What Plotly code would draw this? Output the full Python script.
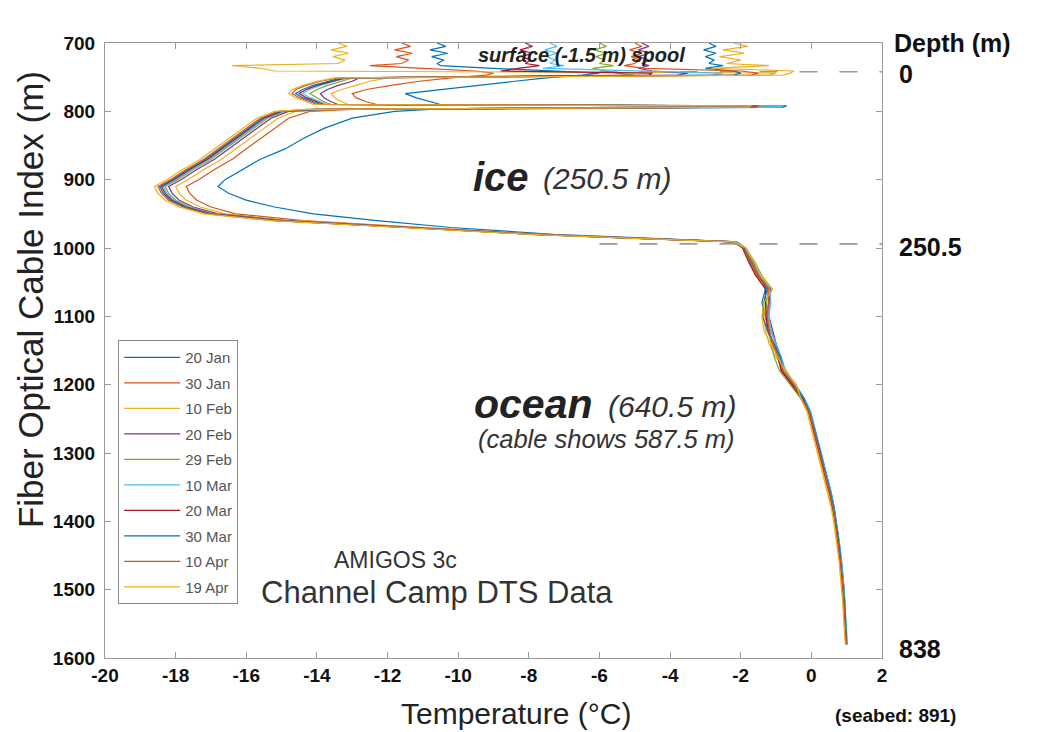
import plotly.graph_objects as go

# ---------------- data ----------------
CABLE_INDEX = [700, 705, 710, 715, 720, 725, 730, 733, 737, 741, 744, 747, 751, 756, 762, 768, 774, 780, 786, 790, 792, 794, 797, 800,
               810, 825, 840, 855, 870, 885, 900, 910, 920, 930, 940, 950, 960, 970, 980, 986, 991,
               1000, 1020, 1040, 1060, 1080, 1100, 1120, 1140, 1160, 1180, 1200, 1220, 1240, 1260, 1280, 1300, 1320, 1340,
               1360, 1380, 1400, 1420, 1440, 1460, 1480, 1500, 1520, 1540, 1560, 1580]

DATES = ["20 Jan", "30 Jan", "10 Feb", "20 Feb", "29 Feb", "10 Mar", "20 Mar", "30 Mar", "10 Apr", "19 Apr"]

T_20JAN = [-10.6, -10.35, -10.8, -10.3, -10.75, -10.4, -10.6, -10.5, -9.0, -7.5, -6.0, -6.5, -7.5, -8.4, -9.5, -10.6, -11.5, -11.2, -10.8, -10.5, -0.7, -0.8, -10.8, -11.8,
           -13.0, -13.8, -14.4, -14.9, -15.6, -16.1, -16.6, -16.8, -16.5, -16.0, -15.2, -14.1, -12.3, -10.2, -7.3, -4.5, -2.1,
           -1.95, -1.65, -1.45, -1.3, -1.4, -1.3, -1.15, -1.0, -0.85, -0.75, -0.45, -0.2, -0.02, 0.08, 0.18, 0.27, 0.38, 0.47, 0.57, 0.65, 0.71, 0.77, 0.81, 0.86, 0.9, 0.93, 0.95, 0.97, 0.99, 1.0]
T_30JAN = [-11.6, -11.35, -11.8, -11.3, -11.75, -11.4, -11.6, -12.5, -11.0, -9.5, -9.0, -9.2, -10.2, -11.1, -11.9, -12.6, -13.0, -12.9, -12.6, -12.3, -1.2, -1.3, -13.0, -14.2,
           -14.8, -15.2, -15.6, -16.0, -16.4, -16.9, -17.35, -17.7, -17.6, -17.4, -17.0, -16.3, -14.4, -11.0, -7.6, -4.7, -2.1,
           -1.9, -1.75, -1.55, -1.25, -1.2, -1.3, -1.25, -1.1, -0.95, -0.82, -0.55, -0.3, -0.08, 0.03, 0.12, 0.22, 0.32, 0.43, 0.52, 0.6, 0.67, 0.72, 0.77, 0.82, 0.86, 0.88, 0.92, 0.94, 0.97, 0.98]
T_10FEB = [-13.4, -13.15, -13.6, -13.1, -13.55, -13.2, -13.4, -16.4, -15.6, -15.2, -1.0, -1.2, -12.0, -12.5, -12.9, -13.3, -13.6, -13.5, -13.3, -13.1, -2.0, -2.1, -13.5, -14.6,
           -15.1, -15.5, -15.9, -16.3, -16.7, -17.2, -17.65, -18.0, -17.9, -17.7, -17.3, -16.6, -14.7, -11.2, -7.7, -4.8, -2.1,
           -1.85, -1.6, -1.4, -1.1, -1.3, -1.35, -1.3, -1.2, -1.0, -0.7, -0.45, -0.28, -0.1, 0.0, 0.1, 0.2, 0.3, 0.4, 0.5, 0.58, 0.64, 0.7, 0.75, 0.8, 0.83, 0.87, 0.9, 0.92, 0.95, 0.97]
T_20FEB = [-4.8, -4.6, -4.9, -4.6, -4.9, -4.6, -4.8, -4.6, -4.9, -4.5, -3.5, -3.8, -12.8, -13.0, -13.4, -13.7, -13.9, -13.8, -13.6, -13.4, -2.2, -2.3, -13.7, -14.8,
           -15.3, -15.7, -16.1, -16.5, -16.9, -17.4, -17.85, -18.2, -18.1, -17.9, -17.5, -16.8, -14.9, -11.3, -7.8, -4.8, -2.1,
           -1.9, -1.7, -1.5, -1.15, -1.2, -1.2, -1.1, -1.0, -0.95, -0.85, -0.52, -0.24, -0.04, 0.06, 0.16, 0.26, 0.36, 0.46, 0.56, 0.63, 0.7, 0.76, 0.8, 0.85, 0.88, 0.91, 0.94, 0.96, 0.98, 1.0]
T_29FEB = [-6.0, -5.8, -6.15, -5.8, -6.1, -5.85, -6.0, -5.6, -6.2, -5.8, -5.5, -5.0, -13.0, -13.3, -13.7, -14.0, -14.2, -14.0, -13.8, -13.6, -2.5, -2.6, -13.8, -14.9,
           -15.4, -15.8, -16.2, -16.6, -17.0, -17.5, -17.95, -18.3, -18.2, -18.0, -17.6, -16.9, -15.0, -11.4, -7.8, -4.9, -2.1,
           -1.92, -1.68, -1.48, -1.22, -1.28, -1.22, -1.18, -1.15, -1.05, -0.9, -0.6, -0.3, -0.06, 0.04, 0.14, 0.24, 0.34, 0.45, 0.55, 0.62, 0.7, 0.75, 0.8, 0.84, 0.89, 0.92, 0.95, 0.97, 0.99, 1.01]
T_10MAR = [-7.4, -7.2, -7.55, -7.2, -7.5, -7.25, -7.4, -7.0, -7.6, -5.0, -2.5, -2.8, -13.1, -13.5, -13.9, -14.2, -14.4, -14.2, -13.9, -13.7, -0.8, -0.9, -13.9, -14.95,
           -15.45, -15.85, -16.25, -16.65, -17.05, -17.55, -18.0, -18.35, -18.25, -18.05, -17.65, -16.95, -15.05, -11.4, -7.8, -4.9, -2.1,
           -1.88, -1.62, -1.42, -1.18, -1.15, -1.2, -1.15, -1.0, -0.85, -0.72, -0.48, -0.22, -0.03, 0.07, 0.17, 0.28, 0.37, 0.48, 0.57, 0.64, 0.71, 0.76, 0.82, 0.86, 0.89, 0.92, 0.95, 0.97, 1.0, 1.02]
T_20MAR = [-8.1, -7.9, -8.25, -7.9, -8.2, -7.95, -8.1, -7.7, -8.3, -8.8, -4.5, -4.6, -13.2, -13.6, -14.0, -14.3, -14.5, -14.3, -14.0, -13.8, -1.5, -1.6, -14.0, -15.0,
           -15.5, -15.9, -16.3, -16.7, -17.1, -17.6, -18.05, -18.4, -18.3, -18.1, -17.7, -17.0, -15.1, -11.4, -7.9, -4.9, -2.2,
           -1.95, -1.78, -1.58, -1.3, -1.3, -1.28, -1.22, -1.08, -0.92, -0.85, -0.55, -0.26, -0.07, 0.03, 0.13, 0.23, 0.33, 0.43, 0.52, 0.6, 0.68, 0.73, 0.78, 0.82, 0.86, 0.9, 0.93, 0.95, 0.97, 0.99]
T_30MAR = [-2.9, -2.7, -3.05, -2.7, -3.0, -2.75, -2.9, -2.5, -3.0, -2.2, -2.0, -2.2, -13.3, -13.7, -14.1, -14.4, -14.6, -14.4, -14.1, -13.9, -1.9, -2.0, -14.1, -15.05,
           -15.55, -15.95, -16.35, -16.75, -17.15, -17.65, -18.1, -18.45, -18.35, -18.15, -17.75, -17.05, -15.15, -11.5, -7.9, -4.9, -2.2,
           -1.9, -1.72, -1.5, -1.25, -1.35, -1.38, -1.25, -1.05, -0.88, -0.78, -0.5, -0.23, -0.05, 0.06, 0.15, 0.26, 0.35, 0.46, 0.55, 0.63, 0.7, 0.75, 0.8, 0.84, 0.88, 0.91, 0.94, 0.96, 0.98, 1.0]
T_10APR = [-5.0, -4.8, -5.15, -4.8, -5.1, -4.85, -5.0, -5.3, -4.7, -2.0, -1.5, -1.7, -13.4, -13.9, -14.3, -14.6, -14.7, -14.5, -14.2, -14.0, -1.5, -1.6, -14.2, -15.1,
           -15.6, -16.0, -16.4, -16.8, -17.2, -17.7, -18.15, -18.5, -18.4, -18.2, -17.8, -17.1, -15.2, -11.5, -7.9, -5.0, -2.2,
           -1.92, -1.7, -1.52, -1.2, -1.22, -1.25, -1.2, -1.08, -0.92, -0.8, -0.5, -0.27, -0.06, 0.04, 0.14, 0.24, 0.34, 0.44, 0.53, 0.61, 0.68, 0.73, 0.78, 0.83, 0.87, 0.9, 0.93, 0.95, 0.97, 0.99]
T_19APR = [-2.2, -1.8, -2.5, -1.9, -2.6, -2.0, -2.4, -1.2, -2.8, -0.5, -0.6, -0.8, -13.5, -14.0, -14.4, -14.7, -14.8, -14.6, -14.3, -14.1, -1.7, -1.8, -14.3, -15.2,
           -15.7, -16.1, -16.5, -16.9, -17.3, -17.8, -18.25, -18.6, -18.5, -18.3, -17.9, -17.2, -15.3, -11.6, -8.0, -5.0, -2.2,
           -1.85, -1.62, -1.45, -1.1, -1.35, -1.4, -1.35, -1.15, -0.95, -0.75, -0.42, -0.3, -0.12, -0.02, 0.08, 0.18, 0.28, 0.38, 0.48, 0.56, 0.63, 0.69, 0.74, 0.79, 0.82, 0.86, 0.89, 0.91, 0.94, 0.96]

SERIES = [T_20JAN, T_30JAN, T_10FEB, T_20FEB, T_29FEB, T_10MAR, T_20MAR, T_30MAR, T_10APR, T_19APR]

SURFACE_INDEX = 742      # depth 0 m
ICE_BASE_INDEX = 994     # depth 250.5 m

X_TICKS = [-20, -18, -16, -14, -12, -10, -8, -6, -4, -2, 0, 2]
X_TICK_TEXT = ["-20", "-18", "-16", "-14", "-12", "-10", "-8", "-6", "-4", "-2", "0", "2"]
Y_TICKS = [700, 800, 900, 1000, 1100, 1200, 1300, 1400, 1500, 1600]

COLORS = ["#0072BD", "#D95319", "#EDB120", "#7E2F8E", "#77AC30",
          "#4DBEEE", "#A2142F", "#0072BD", "#D95319", "#EDB120"]

FONT = "Liberation Sans, Arial, Helvetica, sans-serif"

# ---------------- figure ----------------
fig = go.Figure()
for name, temps, col in zip(DATES, SERIES, COLORS):
    fig.add_trace(go.Scatter(
        x=temps, y=CABLE_INDEX, mode="lines", name=name,
        line=dict(color=col, width=1.2), legendgroup=name,
    ))

for yv in (SURFACE_INDEX, ICE_BASE_INDEX):
    fig.add_shape(type="line", xref="x", yref="y", x0=-6, x1=2, y0=yv, y1=yv,
                  line=dict(color="#9a9a9a", width=1.6, dash="18px,22px"), layer="below")

annos = [
    dict(x=-6.5, y=717, text="<b><i>surface (-1.5 m) spool</i></b>", font=dict(size=20, color="#222")),
    dict(x=-8.8, y=896, text="<b><i>ice</i></b>", font=dict(size=40, color="#222")),
    dict(x=-5.8, y=899, text="<i>(250.5 m)</i>", font=dict(size=30, color="#333")),
    dict(x=-7.87, y=1229, text="<b><i>ocean</i></b>", font=dict(size=41, color="#222")),
    dict(x=-3.94, y=1232, text="<i>(640.5 m)</i>", font=dict(size=30, color="#333")),
    dict(x=-5.8, y=1280, text="<i>(cable shows 587.5 m)</i>", font=dict(size=25.5, color="#333")),
    dict(x=-11.78, y=1456, text="AMIGOS 3c", font=dict(size=23, color="#333")),
    dict(x=-10.6, y=1504, text="Channel Camp DTS Data", font=dict(size=31, color="#333")),
]
for a in annos:
    fig.add_annotation(xref="x", yref="y", showarrow=False, font_family=FONT, **a)

right_labels = [
    ("0", 745),
    ("250.5", 998),
    ("838", 1587),
]
for txt, yv in right_labels:
    fig.add_annotation(xref="paper", yref="y", x=1.019, y=yv, xanchor="left", yanchor="middle", showarrow=False,
                       text=f"<b>{txt}</b>", font=dict(size=25, color="#111", family=FONT))
fig.add_annotation(xref="paper", yref="paper", x=1.013, y=1.0, xanchor="left", yanchor="middle", showarrow=False,
                   text="<b>Depth (m)</b>", font=dict(size=25, color="#111", family=FONT))
fig.add_annotation(xref="paper", yref="paper", x=1.017, y=-0.093, xanchor="center", yanchor="middle", showarrow=False,
                   text="<b>(seabed: 891)</b>", font=dict(size=19, color="#111", family=FONT))

# axis titles (placed as in the reference)
fig.add_annotation(xref="paper", yref="paper", x=0.529, y=-0.090, xanchor="center", yanchor="middle", showarrow=False,
                   text="Temperature (°C)", font=dict(size=30, color="#222", family=FONT))
fig.add_annotation(xref="paper", yref="paper", x=-0.0965, y=0.582, xanchor="center", yanchor="middle", showarrow=False,
                   textangle=-90, text="Fiber Optical Cable Index (m)", font=dict(size=35, color="#222", family=FONT))

axis_common = dict(showline=True, linecolor="#9a9a9a", linewidth=1.2, mirror="ticks",
                   ticks="inside", ticklen=6, tickcolor="#9a9a9a", showgrid=False, zeroline=False,
                   automargin=False,
                   tickfont=dict(size=19, color="#111", family=FONT, weight="bold"))

fig.update_layout(
    width=1032, height=724,
    margin=dict(l=97, r=158, t=35, b=74),
    paper_bgcolor="white", plot_bgcolor="white",
    font=dict(family=FONT),
    xaxis=dict(range=[-20, 2], tickvals=X_TICKS, ticktext=X_TICK_TEXT, ticklabelstandoff=0,
               **axis_common),
    yaxis=dict(range=[1600, 700], tickvals=Y_TICKS, ticklabelstandoff=5,
               **axis_common),
    legend=dict(x=0.017, y=0.517, xanchor="left", yanchor="top",
                bgcolor="white", bordercolor="#8a8a8a", borderwidth=1,
                font=dict(size=15, color="#555", family=FONT), tracegroupgap=3,
                itemwidth=56),
    showlegend=True,
)

fig.write_html("out.html")
